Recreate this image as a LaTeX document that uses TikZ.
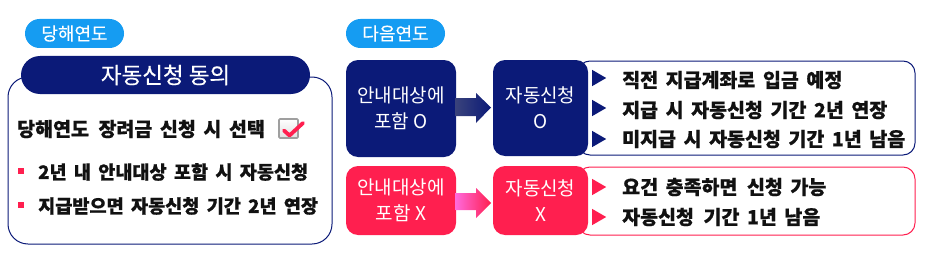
\documentclass[tikz,border=0pt]{standalone}
\usepackage{fontspec}
\setmainfont{Noto Sans CJK KR}
\newfontfamily\itemfont{Noto Sans CJK KR}[WordSpace=1.7, BoldFeatures={FakeBold=0.5}]
\newfontfamily\medfont{Noto Sans CJK KR}[FakeBold=0.3]
\usetikzlibrary{shapes.geometric}
\definecolor{navy}{HTML}{0B1A78}
\definecolor{crim}{HTML}{FF1F4F}
\definecolor{sky}{HTML}{159CF2}
\definecolor{txt}{HTML}{111111}
\newcommand{\dsp}{\ \hspace{2pt}}
\tikzset{
  pill/.style={fill=sky, rounded corners=14.5pt},
  pilltext/.style={text=white, font=\medfont\fontsize{18}{18}\selectfont},
  bigbox/.style={rounded corners=11pt, text=white, align=center, font=\fontsize{19}{26}\selectfont},
  outl/.style={rounded corners=12pt, line width=1pt, fill=white},
  item/.style={anchor=west, text=txt, inner sep=0pt, font=\itemfont\bfseries\fontsize{19.5}{19.5}\selectfont},
  smallitem/.style={item, font=\itemfont\bfseries\fontsize{18.6}{18.6}\selectfont},
  tri/.style={isosceles triangle, isosceles triangle apex angle=60, minimum height=14pt, minimum width=15pt, inner sep=0pt, anchor=west}
}
\begin{document}
\begin{tikzpicture}[x=1pt,y=-1pt]
\useasboundingbox (0,0) rectangle (925,254);
% left section
\draw[navy, line width=1pt, rounded corners=20pt, fill=white] (8,77) rectangle (332,244);
\path[pill] (25,19) rectangle (124,48);
\node[pilltext] (ty) at (74.5,33.5) {당해연도};
\path[fill=navy, rounded corners=19pt] (21,56) rectangle (310,94);
\node[text=white, font=\medfont\fontsize{22.5}{22.5}\selectfont] (title) at (165.5,75) {자동신청 동의};
\node[item] (sel) at (17,129) {당해연도\dsp 장려금 신청 시 선택};
% checkbox
\draw[gray!75, line width=1.6pt, top color=white, bottom color=gray!25, rounded corners=1pt] (279,119) rectangle (298,138);
\draw[crim, line width=3.8pt, line cap=round, line join=round] (284,130.5) -- (289.5,135.5) -- (303,123);
\fill[crim] (18,168) rectangle (24,174);
\fill[crim] (18,202) rectangle (24,208);
\node[smallitem] (b1) at (38,172) {2년 내 안내대상 포함 시 자동신청};
\node[smallitem] (b2) at (38,206) {지급받으면 자동신청 기간 2년 연장};
% right section
\path[pill] (346,19) rectangle (445,48);
\node[pilltext] (ny) at (395.5,33.5) {다음연도};
% top row
\draw[navy, outl] (578,61) rectangle (915,155);
\path[fill=navy, rounded corners=12pt] (346,60) rectangle (456,157);
\node[bigbox] (a1) at (401,108.5) {안내대상에\\포함 O};
\path[fill=navy, rounded corners=12pt] (493,60) rectangle (588,156);
\node[bigbox] (a2) at (540.5,108) {자동신청\\O};
\shade[left color=navy!60!gray, right color=navy] (455.5,98) -- (476,98) -- (476,93) -- (491,107.5) -- (476,123) -- (476,116) -- (455.5,116) -- cycle;
\node[tri, fill=navy] (t1) at (592,78) {};
\node[tri, fill=navy] (t2) at (592,108) {};
\node[tri, fill=navy] (t3) at (592,139) {};
\node[item] (r1) at (622,80) {직전 지급계좌로 입금 예정};
\node[item] (r2) at (622,110) {지급 시 자동신청 기간 2년 연장};
\node[item] (r3) at (622,139) {미지급 시 자동신청 기간 1년 남음};
% bottom row
\draw[crim, outl] (578,167) rectangle (915,235);
\path[fill=crim, rounded corners=12pt] (346,166) rectangle (456,235);
\node[bigbox] (c1) at (401,200.5) {안내대상에\\포함 X};
\path[fill=crim, rounded corners=12pt] (493,166) rectangle (588,235);
\node[bigbox] (c2) at (540.5,200.5) {자동신청\\X};
\shade[left color=magenta!45!pink, right color=crim] (455.5,193) -- (476,193) -- (476,188) -- (491,203) -- (476,218) -- (476,210) -- (455.5,210) -- cycle;
\node[tri, fill=crim] (t4) at (592,187) {};
\node[tri, fill=crim] (t5) at (592,217) {};
\node[item] (s1) at (622,187) {요건 충족하면\dsp 신청 가능};
\node[item] (s2) at (622,217) {자동신청\dsp 기간 1년 남음};
\end{tikzpicture}
\end{document}
